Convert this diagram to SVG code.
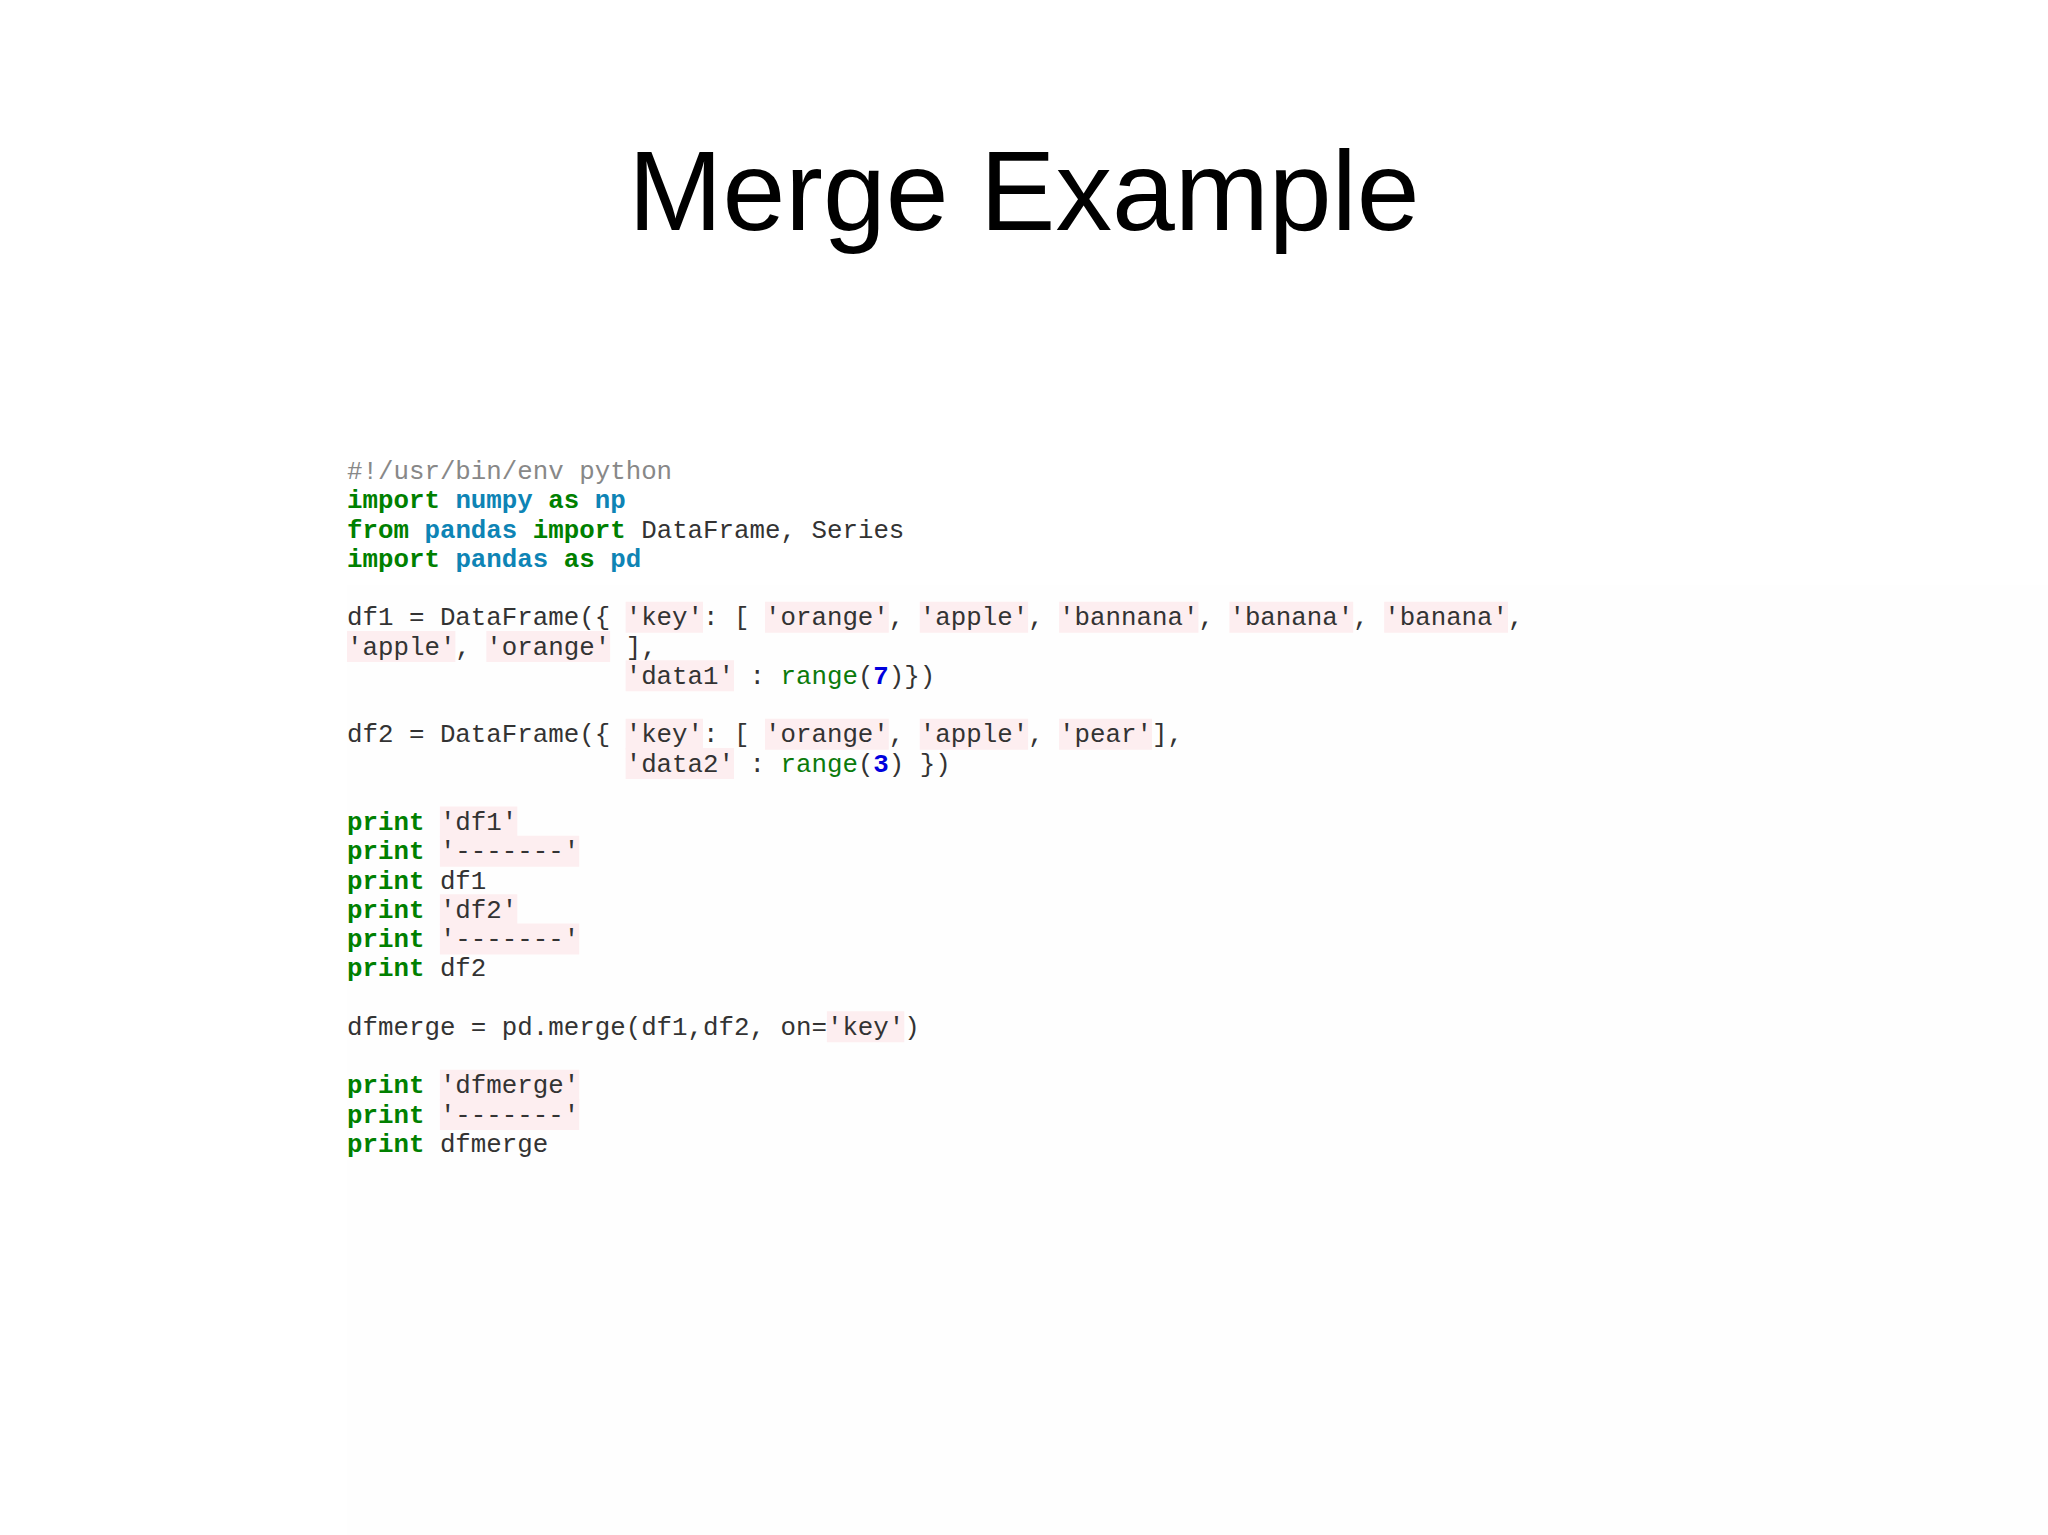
<svg xmlns="http://www.w3.org/2000/svg" width="2048" height="1535" viewBox="0 0 2048 1535" xml:space="preserve">
<style>
.t{font-family:"Liberation Sans",Arial,sans-serif;font-size:113px;fill:#000}
.c{font-family:"Liberation Mono","Courier New",monospace;font-size:25.8px;fill:#333;white-space:pre}
.cm{fill:#888}
.kw{fill:#008000;font-weight:bold}
.ns{fill:#0e84b5;font-weight:bold}
.bi{fill:#0b7a0b}
.nu{fill:#0000dd;font-weight:bold}
.hl{fill:#fdeef0}
</style>
<rect width="2048" height="1535" fill="#ffffff"/>
<rect x="347" y="585" width="1701" height="950" fill="#fefefe"/>
<g id="title"><text class="t" x="1024" y="230" text-anchor="middle">Merge Example</text></g>
<g id="highlights">
<rect class="hl" x="625.64" y="601.75" width="77.4" height="31"/>
<rect class="hl" x="764.96" y="601.75" width="123.84" height="31"/>
<rect class="hl" x="919.76" y="601.75" width="108.36" height="31"/>
<rect class="hl" x="1059.08" y="601.75" width="139.32" height="31"/>
<rect class="hl" x="1229.36" y="601.75" width="123.84" height="31"/>
<rect class="hl" x="1384.16" y="601.75" width="123.84" height="31"/>
<rect class="hl" x="347" y="631" width="108.36" height="31"/>
<rect class="hl" x="486.32" y="631" width="123.84" height="31"/>
<rect class="hl" x="625.64" y="660.25" width="108.36" height="31"/>
<rect class="hl" x="625.64" y="718.75" width="77.4" height="31"/>
<rect class="hl" x="764.96" y="718.75" width="123.84" height="31"/>
<rect class="hl" x="919.76" y="718.75" width="108.36" height="31"/>
<rect class="hl" x="1059.08" y="718.75" width="92.88" height="31"/>
<rect class="hl" x="625.64" y="748" width="108.36" height="31"/>
<rect class="hl" x="439.88" y="806.5" width="77.4" height="31"/>
<rect class="hl" x="439.88" y="835.75" width="139.32" height="31"/>
<rect class="hl" x="439.88" y="894.25" width="77.4" height="31"/>
<rect class="hl" x="439.88" y="923.5" width="139.32" height="31"/>
<rect class="hl" x="826.88" y="1011.25" width="77.4" height="31"/>
<rect class="hl" x="439.88" y="1069.75" width="139.32" height="31"/>
<rect class="hl" x="439.88" y="1099" width="139.32" height="31"/>
</g>
<g id="code">
<text class="c" x="347" y="479"><tspan class="cm">#!/usr/bin/env python</tspan></text>
<text class="c" x="347" y="508.25"><tspan class="kw">import</tspan> <tspan class="ns">numpy</tspan> <tspan class="kw">as</tspan> <tspan class="ns">np</tspan></text>
<text class="c" x="347" y="537.5"><tspan class="kw">from</tspan> <tspan class="ns">pandas</tspan> <tspan class="kw">import</tspan> DataFrame, Series</text>
<text class="c" x="347" y="566.75"><tspan class="kw">import</tspan> <tspan class="ns">pandas</tspan> <tspan class="kw">as</tspan> <tspan class="ns">pd</tspan></text>
<text class="c" x="347" y="625.25">df1 = DataFrame({ 'key': [ 'orange', 'apple', 'bannana', 'banana', 'banana',</text>
<text class="c" x="347" y="654.5">'apple', 'orange' ],</text>
<text class="c" x="347" y="683.75">                  'data1' : <tspan class="bi">range</tspan>(<tspan class="nu">7</tspan>)})</text>
<text class="c" x="347" y="742.25">df2 = DataFrame({ 'key': [ 'orange', 'apple', 'pear'],</text>
<text class="c" x="347" y="771.5">                  'data2' : <tspan class="bi">range</tspan>(<tspan class="nu">3</tspan>) })</text>
<text class="c" x="347" y="830"><tspan class="kw">print</tspan> 'df1'</text>
<text class="c" x="347" y="859.25"><tspan class="kw">print</tspan> '-------'</text>
<text class="c" x="347" y="888.5"><tspan class="kw">print</tspan> df1</text>
<text class="c" x="347" y="917.75"><tspan class="kw">print</tspan> 'df2'</text>
<text class="c" x="347" y="947"><tspan class="kw">print</tspan> '-------'</text>
<text class="c" x="347" y="976.25"><tspan class="kw">print</tspan> df2</text>
<text class="c" x="347" y="1034.75">dfmerge = pd.merge(df1,df2, on='key')</text>
<text class="c" x="347" y="1093.25"><tspan class="kw">print</tspan> 'dfmerge'</text>
<text class="c" x="347" y="1122.5"><tspan class="kw">print</tspan> '-------'</text>
<text class="c" x="347" y="1151.75"><tspan class="kw">print</tspan> dfmerge</text>
</g>
</svg>
